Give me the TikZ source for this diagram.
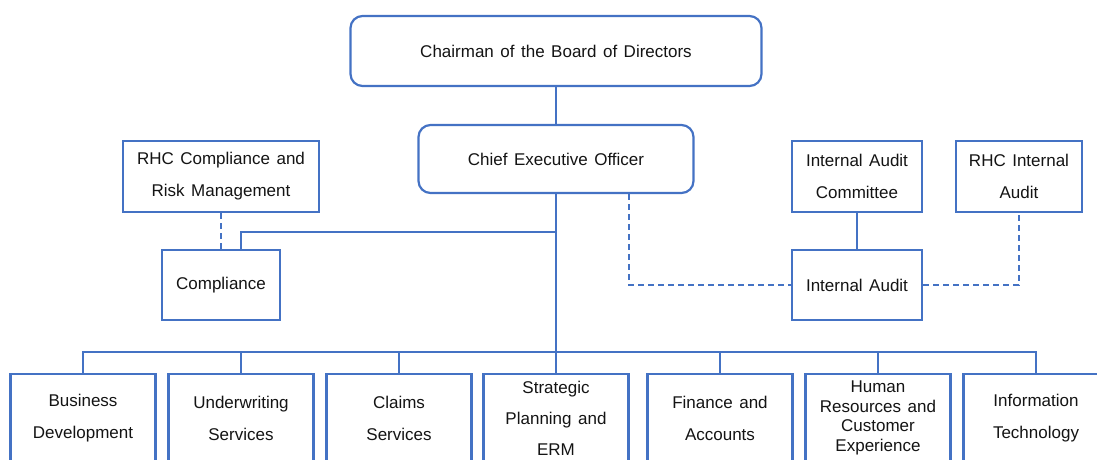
\documentclass[tikz,border=0pt]{standalone}
\usepackage{fontspec}
\setmainfont{Liberation Sans}
\usepackage{xcolor}
\definecolor{orgBlue}{RGB}{68, 114, 196}
\definecolor{orgText}{RGB}{20, 20, 20}
\newcommand{\orgfont}{\fontsize{17}{32}\selectfont\spaceskip=6.5pt\relax}
\newcommand{\orgtightfont}{\fontsize{17}{19.5}\selectfont\spaceskip=6.5pt\relax}

\begin{document}
\begin{tikzpicture}[x=1pt, y=-1pt,
    orgbox/.style={draw=orgBlue, line width=2.2pt, fill=white, text=orgText, font=\orgfont, align=center, inner sep=0pt},
    roundbox/.style={orgbox, rounded corners=12pt},
    deptbox/.style={orgbox, minimum width=145pt, minimum height=88pt},
    link/.style={draw=orgBlue, line width=2pt},
    dlink/.style={link, dash pattern=on 6pt off 4pt}]
        \useasboundingbox (0,0) rectangle (1097,459);
        % top of the chart
        \node[roundbox, minimum width=411pt, minimum height=70pt] (chair) at (556,51) {Chairman of the Board of Directors};
        \node[roundbox, minimum width=275pt, minimum height=68pt] (ceo) at (556,159) {Chief Executive Officer};
        % compliance side
        \node[orgbox, minimum width=196pt, minimum height=71pt] (rhccomp) at (221,176.5) {RHC Compliance and\\Risk Management};
        \node[orgbox, minimum width=118pt, minimum height=70pt] (comp) at (221,285) {Compliance};
        % audit side
        \node[orgbox, minimum width=130pt, minimum height=71pt] (iac) at (857,176.5) {Internal Audit\\Committee};
        \node[orgbox, minimum width=126pt, minimum height=71pt] (rhcia) at (1019,176.5) {RHC Internal\\Audit};
        \node[orgbox, minimum width=130pt, minimum height=70pt] (ia) at (857,285) {Internal Audit};
        % departments
        \node[deptbox] (bd) at (83,418) {Business\\Development};
        \node[deptbox] (uw) at (241,418) {Underwriting\\Services};
        \node[deptbox] (cl) at (399,418) {Claims\\Services};
        \node[deptbox] (sp) at (556,418) {Strategic\\[-1pt]Planning and\\[-1pt]ERM};
        \node[deptbox] (fa) at (720,418) {Finance and\\Accounts};
        \node[deptbox, font=\orgtightfont] (hr) at (878,418) {Human\\Resources and\\Customer\\Experience};
        \node[deptbox] (it) at (1036,418) {Information\\Technology};
        % connectors
        \coordinate (bus) at (556,352);
        \coordinate (cbranch) at (556,232);
        \draw[link] (chair) -- (ceo);
        \draw[link] (ceo.south) -- (sp.north);
        \foreach \dept in {bd,uw,cl,fa,hr,it}
          \draw[link] (\dept.north) |- (bus);
        \draw[link] (cbranch) -| ([xshift=20pt]comp.north);
        \draw[dlink] (rhccomp) -- (comp);
        \draw[dlink] ([xshift=73pt]ceo.south) |- (ia.west);
        \draw[link] (iac) -- (ia);
        \draw[dlink] (ia.east) -| (rhcia.south);
      \end{tikzpicture}
\end{document}
